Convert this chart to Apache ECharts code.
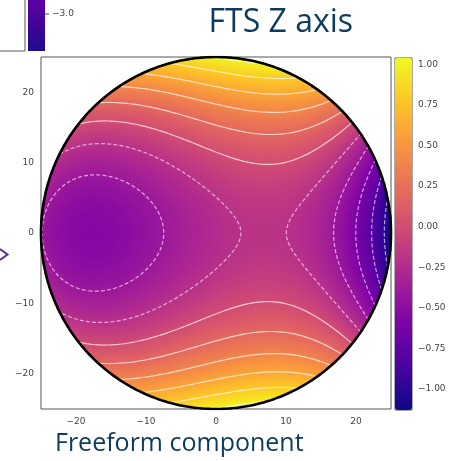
<!DOCTYPE html>
<html><head><meta charset="utf-8">
<script src="https://cdn.jsdelivr.net/npm/echarts@6/dist/echarts.min.js"></script>
<style>html,body{margin:0;padding:0;background:#fff}#chart{width:465px;height:461px}</style>
</head><body><div id="chart"></div>
<script>
// Aperture radius (mm) and the freeform sag polynomial in normalized
// pupil coordinates u = x / R, v = y / R
const apertureRadius = 25;
const surfaceTerms = ['1', 'u', 'u^2', 'u^3', 'u^4', 'u^5', 'v^2', 'u*v^2', 'u^2*v^2', 'v^4'];
const surfaceCoeffs = [-0.2482, 0.4197, -0.4837, -0.6183, -0.0250, -0.1657, 1.1530, 0.0170, 0.3568, 0.1046];
const contourLevels = [-1.0, -0.8, -0.6, -0.4, -0.2, 0, 0.2, 0.4, 0.6, 0.8, 1.0];
const axisTicks = [-20, -10, 0, 10, 20];
const colorbarTicks = [-1.0, -0.75, -0.5, -0.25, 0, 0.25, 0.5, 0.75, 1.0];
const colorRange = [-1.13, 1.04];
const plasma = ['#0d0887', '#4c02a1', '#7e03a8', '#a92395', '#cc4778', '#e66c5c', '#f89540', '#fdc527', '#f0f921'];

const R = apertureRadius;
function termValues(u, v) {
  const v2 = v * v;
  return [1, u, u * u, u * u * u, u ** 4, u ** 5, v2, u * v2, u * u * v2, v2 * v2];
}
function sag(x, y) {
  const t = termValues(x / R, y / R);
  let s = 0;
  for (let i = 0; i < t.length; i++) s += t[i] * surfaceCoeffs[i];
  return s;
}

// Heatmap cells inside the circular aperture
const NX = 175, NY = 176;
const catsX = Array.from({length: NX}, (_, i) => i);
const catsY = Array.from({length: NY}, (_, i) => i);
const heat = [];
for (let j = 0; j < NY; j++) {
  for (let i = 0; i < NX; i++) {
    const x = -R + (i + 0.5) * 2 * R / NX, y = -R + (j + 0.5) * 2 * R / NY;
    if (x * x + y * y <= R * R) heat.push([i, j, sag(x, y)]);
  }
}

// Iso-lines of the sag by marching squares, chained into polylines
const step = 0.25, g0 = -25.5, G = Math.round(51 / step) + 1;
const gx = i => g0 + i * step;
const field = [];
for (let j = 0; j < G; j++) { const row = []; for (let i = 0; i < G; i++) row.push(sag(gx(i), gx(j))); field.push(row); }

function contour(level) {
  const segs = [];
  const interp = (x1, y1, v1, x2, y2, v2) => { const t = (level - v1) / (v2 - v1); return [x1 + t * (x2 - x1), y1 + t * (y2 - y1)]; };
  for (let j = 0; j < G - 1; j++) for (let i = 0; i < G - 1; i++) {
    const a = field[j][i], b = field[j][i + 1], c = field[j + 1][i + 1], d = field[j + 1][i];
    const x0 = gx(i), x1 = gx(i + 1), y0 = gx(j), y1 = gx(j + 1);
    const e = [];
    if ((a >= level) !== (b >= level)) e.push(['h' + i + '_' + j, interp(x0, y0, a, x1, y0, b)]);
    if ((b >= level) !== (c >= level)) e.push(['v' + (i + 1) + '_' + j, interp(x1, y0, b, x1, y1, c)]);
    if ((d >= level) !== (c >= level)) e.push(['h' + i + '_' + (j + 1), interp(x0, y1, d, x1, y1, c)]);
    if ((a >= level) !== (d >= level)) e.push(['v' + i + '_' + j, interp(x0, y0, a, x0, y1, d)]);
    if (e.length === 2) segs.push([e[0], e[1]]);
    else if (e.length === 4) {
      const center = (a + b + c + d) / 4;
      if ((center >= level) === (a >= level)) { segs.push([e[0], e[1]]); segs.push([e[2], e[3]]); }
      else { segs.push([e[0], e[3]]); segs.push([e[1], e[2]]); }
    }
  }
  const byEdge = {};
  segs.forEach((s, k) => s.forEach(p => { (byEdge[p[0]] = byEdge[p[0]] || []).push(k); }));
  const used = new Array(segs.length).fill(false), lines = [];
  const walk = (k, fromEdge) => {
    const out = [];
    let cur = k, edge = fromEdge;
    while (true) {
      used[cur] = true;
      const s = segs[cur];
      const nxt = s[0][0] === edge ? s[1] : s[0];
      out.push(nxt[1]);
      const cand = (byEdge[nxt[0]] || []).filter(q => !used[q]);
      if (!cand.length) break;
      cur = cand[0]; edge = nxt[0];
    }
    return out;
  };
  for (let k = 0; k < segs.length; k++) {
    if (used[k]) continue;
    used[k] = true;
    const s = segs[k];
    const fc = (byEdge[s[1][0]] || []).filter(q => !used[q]);
    const fwd = fc.length ? walk(fc[0], s[1][0]) : [];
    const bc = (byEdge[s[0][0]] || []).filter(q => !used[q]);
    const bwd = bc.length ? walk(bc[0], s[0][0]) : [];
    lines.push(bwd.reverse().concat([s[0][1], s[1][1]], fwd));
  }
  return lines;
}

function clipToCircle(pts, r) {
  const out = []; let run = [];
  const inside = p => p[0] * p[0] + p[1] * p[1] <= r * r;
  const cross = (p, q) => {
    const dx = q[0] - p[0], dy = q[1] - p[1];
    const A = dx * dx + dy * dy, B = 2 * (p[0] * dx + p[1] * dy), C = p[0] * p[0] + p[1] * p[1] - r * r;
    const disc = Math.sqrt(Math.max(0, B * B - 4 * A * C));
    let t = (-B + disc) / (2 * A); if (t < 0 || t > 1) t = (-B - disc) / (2 * A);
    return [p[0] + t * dx, p[1] + t * dy];
  };
  for (let k = 0; k < pts.length; k++) {
    const p = pts[k], ins = inside(p);
    if (k > 0) {
      const q = pts[k - 1], qin = inside(q);
      if (ins && !qin) run.push(cross(q, p));
      if (!ins && qin) { run.push(cross(q, p)); out.push(run); run = []; }
    }
    if (ins) run.push(p);
  }
  if (run.length > 1) out.push(run);
  return out.filter(l => l.length > 1);
}

const series = [{
  type: 'heatmap', xAxisIndex: 1, yAxisIndex: 1, data: heat, progressive: 0, silent: true, itemStyle: {borderWidth: 0}
}];
contourLevels.forEach(L => {
  contour(L).forEach(line => {
    clipToCircle(line, R).forEach(seg => {
      series.push({type: 'line', xAxisIndex: 0, yAxisIndex: 0, data: seg, showSymbol: false, symbol: 'none', silent: true,
        lineStyle: {color: L < 0 ? 'rgba(255,215,255,0.72)' : 'rgba(255,245,235,0.75)', width: 1.2, type: L < 0 ? [4, 2.2] : 'solid'}, z: 3});
    });
  });
});
// Aperture outline
const rim = [];
for (let k = 0; k <= 360; k++) { const a = k * Math.PI / 180; rim.push([R * Math.cos(a), R * Math.sin(a)]); }
series.push({type: 'line', xAxisIndex: 0, yAxisIndex: 0, data: rim, showSymbol: false, symbol: 'none', silent: true, lineStyle: {color: '#000', width: 2.6}, z: 4});
series.push({type: 'line', xAxisIndex: 2, yAxisIndex: 2, data: [], silent: true});

const fmt = v => (v < 0 ? '\u2212' : '') + Math.abs(v).toFixed(0);
const fmt2 = v => (v < 0 ? '\u2212' : '') + Math.abs(v).toFixed(2);
const labelFont = {fontFamily: 'DejaVu Sans', fontSize: 9, color: '#444'};
const chart = echarts.init(document.getElementById('chart'), null, {renderer: 'canvas'});
chart.setOption({
  animation: false,
  grid: [
    {left: 41, top: 57, width: 350, height: 352, show: true, borderColor: '#555', borderWidth: 1},
    {left: 41, top: 57, width: 350, height: 352, show: false},
    {left: 395, top: 58, width: 17, height: 352, show: true, borderColor: '#555', borderWidth: 1}
  ],
  xAxis: [
    {gridIndex: 0, type: 'value', min: -R, max: R, axisLine: {show: false}, splitLine: {show: false},
     axisTick: {show: true, inside: false, length: 4, customValues: axisTicks, lineStyle: {color: '#444'}},
     axisLabel: {...labelFont, margin: 8, customValues: axisTicks, formatter: fmt}},
    {gridIndex: 1, type: 'category', data: catsX, show: false},
    {gridIndex: 2, type: 'value', min: 0, max: 1, show: false}
  ],
  yAxis: [
    {gridIndex: 0, type: 'value', min: -R, max: R, axisLine: {show: false}, splitLine: {show: false},
     axisTick: {show: true, inside: false, length: 4, customValues: axisTicks, lineStyle: {color: '#444'}},
     axisLabel: {...labelFont, margin: 7, customValues: axisTicks, formatter: fmt}},
    {gridIndex: 1, type: 'category', data: catsY, show: false},
    {gridIndex: 2, type: 'value', position: 'right', min: colorRange[0], max: colorRange[1], axisLine: {show: false}, splitLine: {show: false},
     axisTick: {show: true, inside: false, length: 4, customValues: colorbarTicks, lineStyle: {color: '#444'}},
     axisLabel: {...labelFont, margin: 6, customValues: colorbarTicks, formatter: fmt2}}
  ],
  visualMap: {type: 'continuous', seriesIndex: 0, dimension: 2, min: colorRange[0], max: colorRange[1], inRange: {color: plasma},
    orient: 'vertical', left: 395, top: 58, itemWidth: 17, itemHeight: 352, padding: 0, calculable: false, hoverLink: false, text: null, showLabel: false},
  graphic: [
    // edge of the neighbouring panel and its colorbar
    {type: 'polyline', shape: {points: [[25, 0], [25, 51], [0, 51]]}, style: {stroke: '#555', lineWidth: 1, fill: null}},
    {type: 'rect', shape: {x: 28, y: 0, width: 17, height: 51}, style: {fill: new echarts.graphic.LinearGradient(0, 0, 0, 1, [{offset: 0, color: '#5d01a6'}, {offset: 1, color: '#200a8c'}])}},
    {type: 'line', shape: {x1: 45, y1: 14, x2: 49, y2: 14}, style: {stroke: '#444', lineWidth: 1}},
    {type: 'text', x: 52, y: 14, style: {text: '\u22123.0', font: '9px "DejaVu Sans"', fill: '#444', verticalAlign: 'middle'}},
    {type: 'polyline', shape: {points: [[0, 249], [7.5, 254.5], [0, 260]]}, style: {stroke: '#5a2d82', lineWidth: 2, fill: null}},
    {type: 'text', x: 353, y: 7, style: {text: 'FTS Z axis', font: '32px "Open Sans"', fill: '#0d3b5e', align: 'right', verticalAlign: 'top'}},
    {type: 'text', x: 55, y: 431, style: {text: 'Freeform component', font: '25px "Open Sans"', fill: '#0d3b5e', verticalAlign: 'top'}}
  ],
  series
});
</script></body></html>
